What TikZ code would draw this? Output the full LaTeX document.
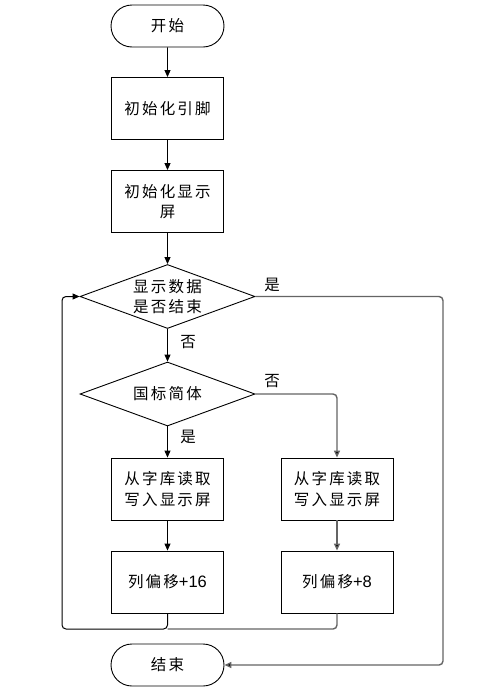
\documentclass[tikz,border=0pt]{standalone}
\usepackage{fontspec}
\setmainfont{Noto Sans CJK SC}[LetterSpace=14]
\newfontfamily\latinfont{Liberation Sans}
\usetikzlibrary{shapes.geometric,shapes.misc,arrows.meta}
\begin{document}
\begin{tikzpicture}[x=1pt,y=1pt,
  font=\fontsize{15.5}{20.5}\selectfont,
  every node/.style={inner sep=0pt},
  term/.style={draw,rounded rectangle,minimum width=113pt,minimum height=42pt,line width=0.9pt},
  proc/.style={draw,rectangle,minimum width=112pt,minimum height=62pt,align=center,line width=0.9pt},
  dia/.style={draw,diamond,minimum width=175pt,minimum height=64pt,aspect=2.7,line width=0.9pt},
  blk/.style={draw=black,line width=0.9pt,-{Triangle[length=7pt,width=6pt]}},
  gry/.style={draw={rgb,255:red,100;green,100;blue,100},line width=1.4pt,rounded corners=4pt},
  gryarr/.style={gry,-{Triangle[length=7pt,width=6pt,fill=black]}},
  lbl/.style={font=\fontsize{15.5}{18}\selectfont}
]
\useasboundingbox (0,0) rectangle (497,-691);
\fill[white] (0,0) rectangle (497,-691);

\node[term] (start) at (167.5,-26) {开始};
\node[proc] (b1) at (167.5,-108.5) {初始化引脚};
\node[proc] (b2) at (167.5,-201.5) {初始化显示\\屏};
\node[dia] (d1) at (167.5,-296.5) {};
\node[align=center] (d1t) at (d1.center) {显示数据\\是否结束};
\node[dia] (d2) at (167.5,-394) {};
\node (d2t) at (d2.center) {国标简体};
\node[proc] (b3) at (167.5,-489) {从字库读取\\写入显示屏};
\node[proc] (b4) at (337,-489) {从字库读取\\写入显示屏};
\node[proc] (b5) at (167.5,-582) {列偏移{\latinfont\fontsize{16.5}{20}\selectfont+16}};
\node[proc] (b6) at (337,-582) {列偏移{\latinfont\fontsize{16.5}{20}\selectfont+8}};
\node[term] (end) at (167.5,-665) {结束};

\coordinate (c1) at (443,-296.5);
\coordinate (c2) at (443,-665);
\coordinate (c3) at (337,-394);
\coordinate (c4) at (167.5,-629);
\coordinate (c5) at (62,-629);
\coordinate (c6) at (62,-296.5);
\coordinate (c7) at (337,-629);

\draw[blk] (start) -- (b1);
\draw[blk] (b1) -- (b2);
\draw[blk] (b2) -- (d1);
\draw[blk] (d1) -- (d2);
\draw[blk] (d2) -- (b3);
\draw[blk] (b3) -- (b5);

\draw[gryarr] (d2.east) -- (c3) -- (b4.north);
\draw[gryarr] (b4) -- (b6);
\draw[gryarr] (d1.east) -- (c1) -- (c2) -- (end.east);
\draw[gry] (b6.south) -- (c7) -- (c4);
\draw[draw=black,line width=1pt,rounded corners=4pt,-{Triangle[length=7pt,width=6pt]}] (b5.south) -- (c4) -- (c5) -- (c6) -- (d1.west);

\node[lbl] (l1) at (272,-285) {是};
\node[lbl] (l2) at (188,-342) {否};
\node[lbl] (l3) at (272,-381) {否};
\node[lbl] (l4) at (188,-437) {是};
\end{tikzpicture}
\end{document}
